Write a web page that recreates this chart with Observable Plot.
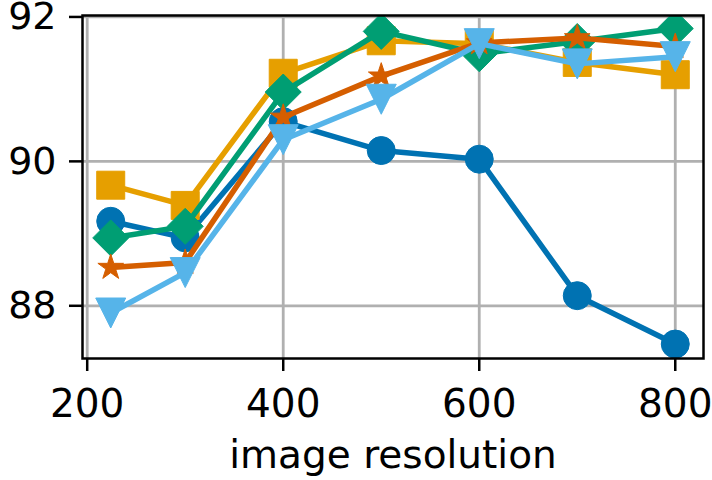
<!DOCTYPE html>
<html>
<head>
<meta charset="utf-8">
<script src="https://cdn.jsdelivr.net/npm/d3@7"></script>
<script src="https://cdn.jsdelivr.net/npm/@observablehq/plot@0.6"></script>
<style>
  html, body { margin: 0; padding: 0; background: #fff; }
  #chart svg { display: block; }
</style>
</head>
<body>
<div id="chart"></div>
<script>
// ---- data ----
const resolutions = [224, 300, 400, 500, 600, 700, 800];
const seriesNames = ["A", "B", "C", "D", "E"];
const seriesA = [89.17, 88.94, 90.55, 90.15, 90.03, 88.14, 87.47]; // blue circles
const seriesB = [89.67, 89.39, 91.22, 91.67, 91.63, 91.37, 91.20]; // orange squares
const seriesC = [88.94, 89.10, 90.96, 91.80, 91.49, 91.66, 91.84]; // green diamonds
const seriesD = [88.53, 88.60, 90.61, 91.18, 91.64, 91.71, 91.59]; // vermilion stars
const seriesE = [87.90, 88.46, 90.30, 90.86, 91.63, 91.35, 91.45]; // sky-blue triangles
const xTicks = [200, 400, 600, 800];
const yTicks = [88, 90, 92];
const xLabel = "image resolution";

// ---- marker shapes (matplotlib-like) ----
const rad = (size) => Math.sqrt(size / Math.PI);
const symCircle = { draw(c, size) { const r = rad(size); c.moveTo(r, 0); c.arc(0, 0, r, 0, 2 * Math.PI); c.closePath(); } };
const symSquare = { draw(c, size) { const h = rad(size); c.rect(-h, -h, 2 * h, 2 * h); } };
const symDiamond = { draw(c, size) { const h = rad(size); c.moveTo(0, -h); c.lineTo(h, 0); c.lineTo(0, h); c.lineTo(-h, 0); c.closePath(); } };
const symStar = { draw(c, size) {
  const R = rad(size), ri = R * 0.381966;
  for (let i = 0; i < 10; i++) {
    const a = -Math.PI / 2 + i * Math.PI / 5;
    const rr = i % 2 === 0 ? R : ri;
    const px = rr * Math.cos(a), py = rr * Math.sin(a);
    if (i === 0) c.moveTo(px, py); else c.lineTo(px, py);
  }
  c.closePath();
} };
const symTriDown = { draw(c, size) { const h = rad(size); c.moveTo(0, h); c.lineTo(-h, -h); c.lineTo(h, -h); c.closePath(); } };

const styles = [
  { values: seriesA, color: "#0072B2", symbol: symCircle, r: 14 },
  { values: seriesB, color: "#E69F00", symbol: symSquare, r: 14 },
  { values: seriesC, color: "#009E73", symbol: symDiamond, r: 18 },
  { values: seriesD, color: "#D55E00", symbol: symStar, r: 13.5 },
  { values: seriesE, color: "#56B4E9", symbol: symTriDown, r: 15 }
];

const seriesMarks = styles.flatMap((s, k) => {
  const rows = resolutions.map((x, i) => ({ x, y: s.values[i], series: seriesNames[k] }));
  return [
    Plot.line(rows, { x: "x", y: "y", stroke: s.color, strokeWidth: 5.5, clip: true }),
    Plot.dot(rows, { x: "x", y: "y", symbol: s.symbol, r: s.r, fill: s.color, stroke: s.color, strokeWidth: 1, clip: true })
  ];
});

const chart = Plot.plot({
  width: 712,
  height: 480,
  marginLeft: 82,
  marginRight: 9,
  marginTop: 15,
  marginBottom: 122,
  style: { fontFamily: "DejaVu Sans", fontSize: "38px", color: "black", background: "white" },
  x: { domain: [195.2, 828.8] },
  y: { domain: [87.27, 92.02] },
  marks: [
    Plot.gridX(xTicks, { stroke: "#b0b0b0", strokeOpacity: 1, strokeWidth: 2.8 }),
    Plot.gridY(yTicks, { stroke: "#b0b0b0", strokeOpacity: 1, strokeWidth: 2.8 }),
    ...seriesMarks,
    Plot.frame({ stroke: "black", strokeWidth: 2.5 }),
    Plot.axisX(xTicks, { tickSize: 13, tickPadding: 18, strokeWidth: 2.5, label: xLabel, labelAnchor: "center", labelArrow: "none", labelOffset: 109, fontSize: 39 }),
    Plot.axisY(yTicks, { tickSize: 13, tickPadding: 13, strokeWidth: 2.5, label: null, tickFormat: d3.format("d") })
  ]
});
document.getElementById("chart").appendChild(chart);
</script>
</body>
</html>
